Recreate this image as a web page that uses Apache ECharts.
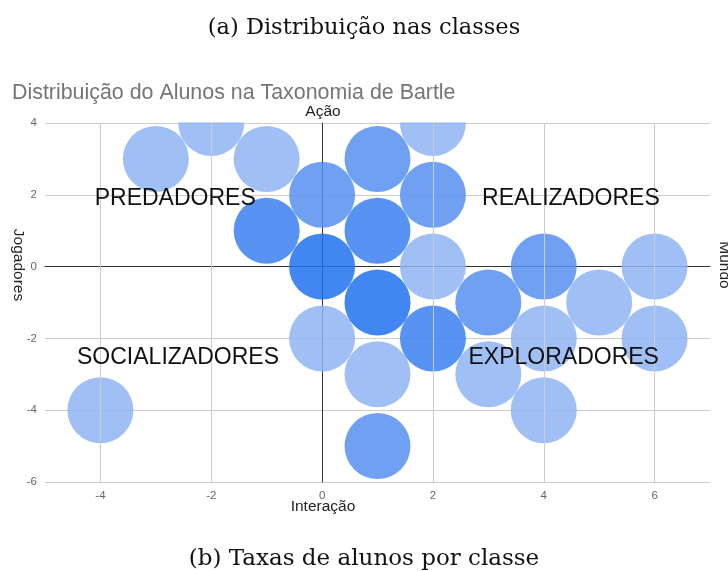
<!DOCTYPE html>
<html><head><meta charset="utf-8">
<script src="https://cdn.jsdelivr.net/npm/echarts@6/dist/echarts.min.js"></script>
<style>html,body{margin:0;padding:0;background:#fff}#c{width:728px;height:571px}</style>
</head><body><div id="c"></div>
<script>
// Interação (x), Jogadores/Ação (y), intensity level (1 = light ... 4 = darkest)
const xs =     [-3, -2, -1, -1, 0, 0,  0, 1, 1,  1,  1,  1, 2, 2, 2,  2,  3,  3, 4,  4,  4,  5, 6,  6, -4];
const ys =     [ 3,  4,  3,  1, 2, 0, -2, 3, 1, -1, -3, -5, 4, 2, 0, -2, -1, -3, 0, -2, -4, -1, 0, -2, -4];
const levels = [ 1,  1,  1,  3, 2, 4,  1, 2, 3,  4,  1,  2, 1, 2, 1,  3,  2,  1, 2,  1,  1,  1, 1,  1,  1];
const levelColors = ['#8fb5f3', '#578ff0', '#3b7ff0', '#2172ef'];
const xTicks = [-4, -2, 0, 2, 4, 6];
const yTicks = [-6, -4, -2, 0, 2, 4];
const quadNames = ['PREDADORES', 'REALIZADORES', 'SOCIALIZADORES', 'EXPLORADORES'];
const quadX = [-2.65, 4.49, -2.6, 4.36];
const quadY = [1.9, 1.9, -2.53, -2.53];

const FONT = 'Liberation Sans, Arial, sans-serif';
const SERIF = 'DejaVu Serif, Liberation Serif, serif';
const chart = echarts.init(document.getElementById('c'));
const pts = xs.map((x, i) => ({value: [x, ys[i], levels[i]], itemStyle: {color: levelColors[levels[i] - 1]}}));
const quads = quadNames.map((n, i) => ({value: [quadX[i], quadY[i]], name: n}));
chart.setOption({
  animation: false,
  backgroundColor: '#fff',
  title: {
    text: 'Distribuição do Alunos na Taxonomia de Bartle',
    left: 7, top: 78, z: 8,
    textStyle: {fontFamily: FONT, fontWeight: 'normal', fontSize: 21.4, color: '#757575'}
  },
  grid: {left: 45, right: 18, top: 123, bottom: 89},
  xAxis: {
    type: 'value', min: -5, max: 7, interval: 1,
    axisLine: {onZero: true, lineStyle: {color: '#333', width: 1}},
    axisTick: {show: false},
    axisLabel: {color: '#666', fontSize: 11.5, fontFamily: FONT, margin: 8,
      formatter: v => xTicks.includes(v) ? String(v) : ''},
    splitLine: {show: false}
  },
  yAxis: {
    type: 'value', min: -6, max: 4, interval: 2,
    axisLine: {onZero: true, lineStyle: {color: '#333', width: 1}},
    axisTick: {show: false},
    axisLabel: {color: '#666', fontSize: 11.5, fontFamily: FONT, margin: 8},
    splitLine: {lineStyle: {color: '#cccccc'}}
  },
  series: [
    {
      type: 'scatter', data: [], z: 1, silent: true,
      markLine: {
        silent: true, symbol: 'none', label: {show: false},
        lineStyle: {color: '#cccccc', type: 'solid', width: 1},
        data: xTicks.filter(v => v !== 0).map(v => ({xAxis: v}))
      }
    },
    {
      type: 'scatter', data: pts, symbolSize: 66,
      itemStyle: {opacity: 0.85}, silent: true, z: 2
    },
    {
      type: 'scatter', data: quads, symbolSize: 0, z: 6, silent: true,
      itemStyle: {opacity: 1},
      label: {show: true, position: 'inside', formatter: p => p.name, color: '#111',
        fontSize: 23, fontFamily: FONT}
    }
  ],
  graphic: [
    {type: 'rect', z: 5, silent: true, shape: {x: 40, y: 0, width: 688, height: 122.5}, style: {fill: '#fff'}},
    {type: 'text', z: 10, left: 'center', top: 17, style: {text: '(a) Distribuição nas classes', fontSize: 22.5, fontFamily: SERIF, fill: '#111'}},
    {type: 'text', z: 10, left: 'center', top: 548, style: {text: '(b) Taxas de alunos por classe', fontSize: 23, fontFamily: SERIF, fill: '#111'}},
    {type: 'text', z: 10, x: 323, y: 112, style: {text: 'Ação', fontSize: 15.5, fontFamily: FONT, fill: '#222', align: 'center', verticalAlign: 'middle'}},
    {type: 'text', z: 10, x: 323, y: 507, style: {text: 'Interação', fontSize: 15.5, fontFamily: FONT, fill: '#222', align: 'center', verticalAlign: 'middle'}},
    {type: 'text', z: 10, x: 18, y: 265, rotation: -Math.PI / 2, style: {text: 'Jogadores', fontSize: 15.5, fontFamily: FONT, fill: '#222', align: 'center', verticalAlign: 'middle'}},
    {type: 'text', z: 10, x: 724, y: 265, rotation: -Math.PI / 2, style: {text: 'Mundo', fontSize: 15.5, fontFamily: FONT, fill: '#222', align: 'center', verticalAlign: 'middle'}}
  ]
});
</script></body></html>
